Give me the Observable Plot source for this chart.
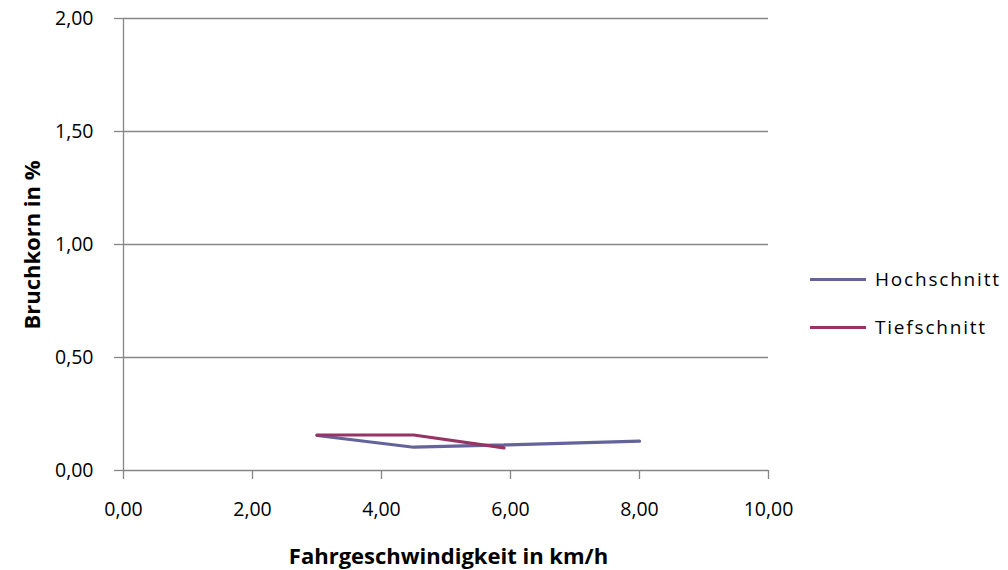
<!DOCTYPE html>
<html>
<head>
<meta charset="utf-8">
<script src="https://cdn.jsdelivr.net/npm/d3@7"></script>
<script src="https://cdn.jsdelivr.net/npm/@observablehq/plot@0.6"></script>
<style>
  html, body { margin: 0; padding: 0; background: #fff; }
  #wrap { position: relative; width: 1008px; height: 570px; font-family: "Open Sans", Lato, sans-serif; color: #000; }
  #chart svg { display: block; }
  .ytitle { position: absolute; left: 30.5px; top: 245px; transform: translate(-50%, -50%) rotate(-90deg); font-weight: bold; font-size: 22px; line-height: 1; white-space: nowrap; }
  .xtitle { position: absolute; left: 448.5px; top: 555px; transform: translate(-50%, -50%); font-weight: bold; font-size: 22px; line-height: 1; white-space: nowrap; }
  .legend .item { position: absolute; left: 810px; height: 30px; display: flex; align-items: center; font-size: 19px; letter-spacing: 1.8px; white-space: nowrap; }
  .legend .sw { width: 56px; height: 3px; margin-right: 9px; }
</style>
</head>
<body>
<div id="wrap">
  <div id="chart"></div>
  <div class="ytitle">Bruchkorn in %</div>
  <div class="xtitle">Fahrgeschwindigkeit in km/h</div>
  <div class="legend" id="legend"></div>
</div>
<script>
// Data
const seriesNames = ["Hochschnitt", "Tiefschnitt"];
const seriesColors = ["#65639C", "#983366"];
const speedHoch = [3.0, 4.5, 5.9, 8.0];
const bruchHoch = [0.155, 0.103, 0.113, 0.130];
const speedTief = [3.0, 4.5, 5.9];
const bruchTief = [0.157, 0.157, 0.100];
const xTicks = [0, 2, 4, 6, 8, 10];
const yTicks = [0, 0.5, 1, 1.5, 2];

const rows = [
  ...speedHoch.map((s, i) => ({series: seriesNames[0], speed: s, value: bruchHoch[i]})),
  ...speedTief.map((s, i) => ({series: seriesNames[1], speed: s, value: bruchTief[i]}))
];
const fmt = d => d.toFixed(2).replace(".", ",");
const gridColor = "#868686";

const chart = Plot.plot({
  width: 1008,
  height: 570,
  marginLeft: 123,
  marginRight: 240,
  marginTop: 18,
  marginBottom: 100,
  style: {fontFamily: "'Open Sans', Lato, sans-serif", fontSize: "19.5px", color: "#000", background: "#fff"},
  x: {domain: [0, 10], ticks: xTicks, tickFormat: fmt, label: null},
  y: {domain: [0, 2], ticks: yTicks, tickFormat: fmt, label: null},
  color: {domain: seriesNames, range: seriesColors},
  marks: [
    Plot.gridY(yTicks, {stroke: gridColor, strokeOpacity: 1, strokeWidth: 1.3}),
    Plot.ruleX([0], {stroke: gridColor, strokeWidth: 1.3}),
    Plot.axisX({ticks: xTicks, tickFormat: fmt, tickSize: 9, tickPadding: 23, stroke: gridColor, strokeWidth: 1.3, label: null, fill: "#000"}),
    Plot.axisY({ticks: yTicks, tickFormat: fmt, tickSize: 9, tickPadding: 21, stroke: gridColor, strokeWidth: 1.3, label: null, fill: "#000"}),
    Plot.line(rows, {x: "speed", y: "value", z: "series", stroke: "series", strokeWidth: 3.2, strokeLinejoin: "miter"})
  ]
});
document.getElementById("chart").appendChild(chart);

const legendY = [279, 327];
const legend = document.getElementById("legend");
seriesNames.forEach((name, i) => {
  const item = document.createElement("div");
  item.className = "item";
  item.style.top = (legendY[i] - 15) + "px";
  const sw = document.createElement("div");
  sw.className = "sw";
  sw.style.background = seriesColors[i];
  const label = document.createElement("span");
  label.textContent = name;
  item.appendChild(sw);
  item.appendChild(label);
  legend.appendChild(item);
});
</script>
</body>
</html>
